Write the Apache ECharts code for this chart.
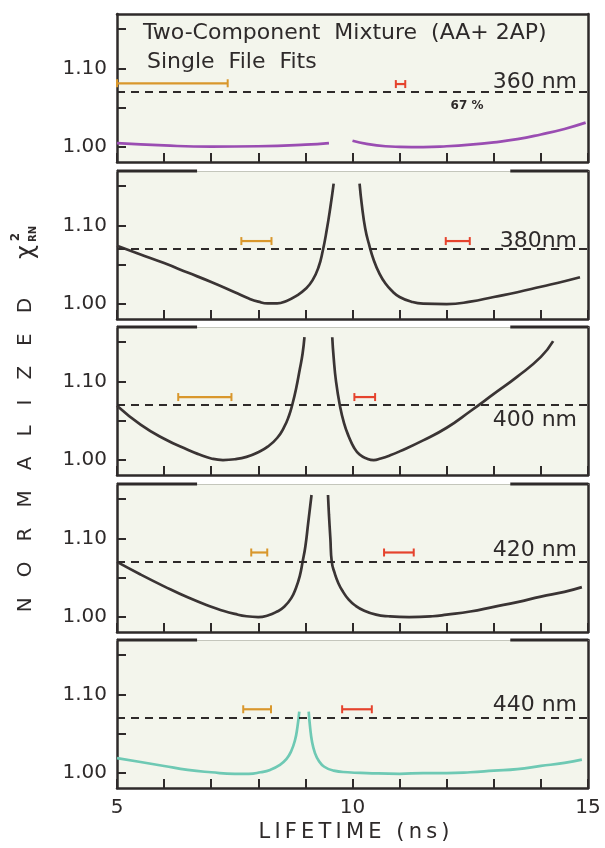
<!DOCTYPE html>
<html><head><meta charset="utf-8">
<script src="https://cdn.jsdelivr.net/npm/echarts@6/dist/echarts.min.js"></script>
<style>html,body{margin:0;padding:0;background:#ffffff}#c{width:605px;height:848px}</style>
</head><body><div id="c"></div>
<script>
// ---------- data ----------
const xTickValues = [5, 10, 15];
const xTickLabels = ['5', '10', '15'];
const yTickValues = [1.00, 1.05, 1.10, 1.15];
const yLabelValues = [1.00, 1.10];
const yTickLabels = ['1.00', '1.10'];
const wavelengths = ['360 nm', '380nm', '400 nm', '420 nm', '440 nm'];
const confidenceLevel = 1.07;
const confidenceText = '67 %';
const titleLine1 = 'Two-Component  Mixture  (AA+ 2AP)';
const titleLine2 = 'Single  File  Fits';

const curve360Left = [[5,1.005],[6,1.002],[7,1.0005],[8,1.001],[9,1.003],[9.5,1.005]];
const curve360Right = [[10.0,1.008],[10.3,1.004],[10.7,1.001],[11,1.0003],[11.5,1.0],[12,1.001],[12.5,1.003],[13,1.006],[13.5,1.010],[14,1.016],[14.5,1.023],[14.95,1.031]];

const curve380Left = [[5,1.074],[5.5,1.063],[6,1.052],[6.5,1.040],[7,1.028],[7.5,1.015],[7.8,1.007],[8.0,1.003],[8.2,1.0008],[8.4,1.0008],[8.6,1.004],[8.8,1.010],[9.0,1.019],[9.15,1.030],[9.28,1.047],[9.37,1.068],[9.45,1.093],[9.53,1.123],[9.6,1.153]];
const curve380Right = [[10.15,1.153],[10.2,1.125],[10.27,1.096],[10.35,1.076],[10.45,1.056],[10.57,1.039],[10.7,1.026],[10.85,1.016],[11.0,1.009],[11.25,1.003],[11.5,1.0005],[12,1.0],[12.5,1.003],[13,1.009],[13.5,1.015],[14,1.022],[14.5,1.029],[14.83,1.034]];

const curve400Left = [[5,1.069],[5.5,1.045],[6,1.027],[6.5,1.013],[6.75,1.007],[7.0,1.002],[7.25,1.0],[7.5,1.001],[7.75,1.004],[8.0,1.01],[8.2,1.017],[8.4,1.028],[8.55,1.042],[8.65,1.056],[8.72,1.07],[8.8,1.09],[8.88,1.115],[8.94,1.135],[8.98,1.156]];
const curve400Right = [[9.57,1.156],[9.6,1.13],[9.65,1.10],[9.73,1.07],[9.82,1.047],[9.92,1.03],[10.03,1.016],[10.15,1.007],[10.3,1.002],[10.45,1.0],[10.6,1.002],[10.8,1.006],[11,1.011],[11.5,1.025],[12,1.041],[12.5,1.062],[13,1.084],[13.5,1.106],[14,1.131],[14.26,1.151]];

const curve420Left = [[5,1.07],[5.5,1.054],[6,1.039],[6.5,1.025],[7,1.013],[7.25,1.008],[7.5,1.004],[7.75,1.001],[8.0,1.0],[8.2,1.002],[8.4,1.007],[8.55,1.013],[8.7,1.024],[8.8,1.037],[8.88,1.052],[8.94,1.07],[9.0,1.09],[9.06,1.12],[9.13,1.155]];
const curve420Right = [[9.48,1.155],[9.5,1.13],[9.53,1.10],[9.56,1.07],[9.62,1.056],[9.7,1.043],[9.8,1.032],[9.92,1.022],[10.05,1.015],[10.25,1.008],[10.5,1.003],[10.76,1.001],[11.2,1.0],[11.7,1.001],[12,1.003],[12.5,1.007],[13,1.013],[13.5,1.019],[14,1.026],[14.5,1.032],[14.87,1.038]];

const curve440Left = [[5,1.019],[5.5,1.014],[6,1.009],[6.5,1.004],[7,1.001],[7.5,0.999],[7.8,0.999],[8.05,1.001],[8.25,1.004],[8.45,1.01],[8.6,1.018],[8.7,1.028],[8.78,1.042],[8.83,1.058],[8.87,1.078]];
const curve440Right = [[9.07,1.078],[9.1,1.058],[9.14,1.04],[9.2,1.026],[9.28,1.016],[9.4,1.008],[9.6,1.003],[9.9,1.001],[10.3,1.0],[11,0.999],[11.5,1.0],[12,1.0],[12.5,1.001],[13,1.003],[13.5,1.005],[14,1.009],[14.5,1.013],[14.87,1.017]];

// [from, to, level]
const orangeBars = [[5.0,7.35,1.081],[7.64,8.28,1.080],[6.30,7.43,1.080],[7.85,8.19,1.082],[7.68,8.27,1.081]];
const redBars = [[10.92,11.12,1.080],[11.98,12.49,1.080],[10.04,10.48,1.080],[10.67,11.30,1.082],[9.78,10.41,1.081]];

const curves = [
  [curve360Left, curve360Right],
  [curve380Left, curve380Right],
  [curve400Left, curve400Right],
  [curve420Left, curve420Right],
  [curve440Left, curve440Right]
];

// ---------- layout / style ----------
const FONT = 'DejaVu Sans';
const INK = '#2e2a2a';
const curveColors = ['#9a4db2', '#3a3434', '#3a3434', '#3a3434', '#6ec9b4'];
const ORANGE = '#d9972c';
const RED = '#e5432d';
const panelTops = [14, 171, 327, 484, 640];
const panelH = 148;
const gridLeft = 117, gridRight = 17;
const yMin = 0.981, yMax = 1.169;
const xMin = 5, xMax = 15;

const grid = [], xAxis = [], yAxis = [], series = [];
panelTops.forEach((top, i) => {
  grid.push({left: gridLeft, right: gridRight, top: top, height: panelH, show: true,
    backgroundColor: '#f3f5ec', borderWidth: 0});
  const last = i === panelTops.length - 1;
  xAxis.push({type: 'value', gridIndex: i, min: xMin, max: xMax, interval: 1, position: 'bottom',
    axisLine: {show: true, lineStyle: {color: INK, width: 2.5}},
    axisTick: {show: true, inside: true, length: 9, lineStyle: {color: INK, width: 2}},
    axisLabel: {show: last, customValues: xTickValues, margin: 10,
      formatter: v => xTickLabels[xTickValues.indexOf(Math.round(v))] || '',
      color: INK, fontFamily: FONT, fontSize: 20},
    splitLine: {show: false}});
  xAxis.push({type: 'value', gridIndex: i, min: xMin, max: xMax, position: 'top',
    axisLine: {show: true, lineStyle: {color: i === 0 ? INK : '#c4c6bc', width: i === 0 ? 2.5 : 1}},
    axisTick: {show: false}, axisLabel: {show: false}, splitLine: {show: false}});
  yAxis.push({type: 'value', gridIndex: i, min: yMin, max: yMax, position: 'left',
    axisLine: {show: true, lineStyle: {color: INK, width: 2.5}},
    axisTick: {show: true, inside: true, length: 9, customValues: yTickValues, lineStyle: {color: INK, width: 2}},
    axisLabel: {show: true, customValues: yLabelValues, margin: 10,
      formatter: v => {
        const k = yLabelValues.findIndex(t => Math.abs(t - v) < 1e-6);
        return k >= 0 ? yTickLabels[k] : '';
      },
      color: INK, fontFamily: FONT, fontSize: 20},
    splitLine: {show: false}});
  yAxis.push({type: 'value', gridIndex: i, min: yMin, max: yMax, position: 'right',
    axisLine: {show: true, lineStyle: {color: INK, width: 2.5}},
    axisTick: {show: false}, axisLabel: {show: false}, splitLine: {show: false}});

  const xi = 2 * i, yi = 2 * i;
  curves[i].forEach(branch => {
    series.push({type: 'line', xAxisIndex: xi, yAxisIndex: yi, data: branch, smooth: 0.5,
      showSymbol: false, symbol: 'none', clip: false, silent: true,
      lineStyle: {color: curveColors[i], width: 2.7}});
  });
  series.push({type: 'line', xAxisIndex: xi, yAxisIndex: yi,
    data: [[xMin, confidenceLevel], [xMax, confidenceLevel]], symbol: 'none', silent: true,
    lineStyle: {color: INK, width: 2, type: [8, 6]}});
  [[orangeBars[i], ORANGE], [redBars[i], RED]].forEach(([b, col]) => {
    series.push({type: 'line', xAxisIndex: xi, yAxisIndex: yi,
      data: [[b[0], b[2]], [b[1], b[2]]], symbol: 'rect', symbolSize: [2, 8], showSymbol: true,
      clip: false, silent: true, itemStyle: {color: col}, lineStyle: {color: col, width: 2.2}});
  });
  if (i > 0) {
    [[xMin, 6.7], [13.35, xMax]].forEach(seg => {
      series.push({type: 'line', xAxisIndex: xi, yAxisIndex: yi, clip: false, silent: true,
        data: [[seg[0], yMax], [seg[1], yMax]], symbol: 'none',
        lineStyle: {color: INK, width: 3}});
    });
  }
});

// ---------- texts ----------
const graphic = [];
graphic.push({type: 'text', left: 143, top: 22, style: {text: titleLine1, fontFamily: FONT, fontSize: 22, fill: INK}});
graphic.push({type: 'text', left: 147, top: 51, style: {text: titleLine2, fontFamily: FONT, fontSize: 22, fill: INK}});
const labelCenters = [82, 241, 420, 550, 705];
wavelengths.forEach((w, i) => {
  graphic.push({type: 'text', x: 577, y: labelCenters[i],
    style: {text: w, fontFamily: FONT, fontSize: 22, fill: INK, align: 'right', verticalAlign: 'middle'}});
});
graphic.push({type: 'text', x: 467, y: 106,
  style: {text: confidenceText, fontFamily: FONT, fontSize: 12, fontWeight: 'bold', fill: INK, align: 'center', verticalAlign: 'middle'}});
// y axis title (rotated)
graphic.push({type: 'text', x: 26, y: 455, rotation: Math.PI / 2,
  style: {text: 'N\u2003O\u2003R\u2003M\u2003A\u2003L\u2003I\u2003Z\u2003E\u2003D', fontFamily: FONT, fontSize: 20, fill: INK, align: 'center', verticalAlign: 'middle'}});
graphic.push({type: 'text', x: 27, y: 252, rotation: Math.PI / 2,
  style: {text: '\u03C7', fontFamily: FONT, fontSize: 24, fill: INK, align: 'center', verticalAlign: 'middle'}});
graphic.push({type: 'text', x: 16, y: 237, rotation: Math.PI / 2,
  style: {text: '2', fontFamily: FONT, fontSize: 12, fontWeight: 'bold', fill: INK, align: 'center', verticalAlign: 'middle'}});
graphic.push({type: 'text', x: 33, y: 234, rotation: Math.PI / 2,
  style: {text: 'RN', fontFamily: FONT, fontSize: 10, fontWeight: 'bold', fill: INK, align: 'center', verticalAlign: 'middle'}});
// x axis title
graphic.push({type: 'text', x: 354, y: 833,
  style: {text: 'L\u2009I\u2009F\u2009E\u2009T\u2009I\u2009M\u2009E\u2002\u2009(\u2009n\u2009s\u2009)', fontFamily: FONT, fontSize: 21, fill: INK, align: 'center', verticalAlign: 'middle'}});

const chart = echarts.init(document.getElementById('c'), null, {renderer: 'canvas'});
chart.setOption({animation: false, backgroundColor: '#ffffff', grid, xAxis, yAxis, series, graphic});
</script></body></html>
